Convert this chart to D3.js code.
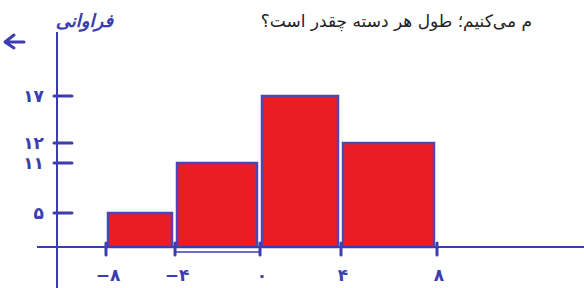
<!DOCTYPE html>
<html>
<head>
<meta charset="utf-8">
<script src="https://cdn.jsdelivr.net/npm/d3@7.9.0/dist/d3.min.js"></script>
<style>
  body { margin: 0; background: #fff; }
  svg { display: block; }
</style>
</head>
<body>
<div id="chart"></div>
<script>
// class edges, frequencies and y tick values
const binEdges = [-8, -4, 0, 4, 8];
const frequencies = [5, 11, 17, 12];
const yTicks = [5, 11, 12, 17];
const title = 'م می‌کنیم؛ طول هر دسته چقدر است؟';
const yTitle = 'فراوانی';

const width = 584, height = 288;
const ink = '#3b3db0';

const toFa = (n) => String(n).replace(/\d/g, (d) => '۰۱۲۳۴۵۶۷۸۹'[d]).replace('-', '−');

const svg = d3.select('#chart').append('svg')
  .attr('width', width)
  .attr('height', height);

// hand drawn axes are uneven, so use piecewise scales matching the sketch
const x = d3.scaleLinear()
  .domain(binEdges)
  .range([106, 175, 260, 341, 437]);
const y = d3.scaleLinear()
  .domain([0, 5, 11, 12, 17])
  .range([247, 213, 163, 143, 96]);

// title text (printed); rtl + start anchors the right edge
svg.append('text')
  .attr('x', 532)
  .attr('y', 27)
  .attr('text-anchor', 'start')
  .attr('direction', 'rtl')
  .style('font-family', 'DejaVu Sans, sans-serif')
  .style('font-size', '17px')
  .style('fill', '#222')
  .text(title);

// bars
const data = frequencies.map((f, i) => ({ x0: binEdges[i], x1: binEdges[i + 1], f }));
svg.append('g').selectAll('rect')
  .data(data)
  .join('rect')
  .attr('x', (d) => x(d.x0) + 2)
  .attr('width', (d) => x(d.x1) - x(d.x0) - 5)
  .attr('y', (d) => y(d.f))
  .attr('height', (d) => y(0) - y(d.f))
  .attr('fill', '#ec1c24')
  .attr('stroke', '#5044b4')
  .attr('stroke-width', 2.5);

// x axis line
svg.append('line')
  .attr('x1', 37).attr('x2', width)
  .attr('y1', y(0)).attr('y2', y(0))
  .attr('stroke', ink).attr('stroke-width', 2);

// y axis line
svg.append('line')
  .attr('x1', 57).attr('x2', 57)
  .attr('y1', 32).attr('y2', height)
  .attr('stroke', ink).attr('stroke-width', 2);

// y ticks
const yAxis = svg.append('g');
yAxis.selectAll('line')
  .data(yTicks)
  .join('line')
  .attr('x1', 54).attr('x2', 72)
  .attr('y1', (d) => y(d)).attr('y2', (d) => y(d))
  .attr('stroke', ink).attr('stroke-width', 3).attr('stroke-linecap', 'round');
yAxis.selectAll('text')
  .data(yTicks)
  .join('text')
  .attr('x', 44)
  .attr('y', (d) => y(d) + 6)
  .attr('text-anchor', 'end')
  .style('font-family', 'DejaVu Sans, sans-serif')
  .style('font-weight', 'bold')
  .style('font-size', '17px')
  .style('fill', ink)
  .text((d) => toFa(d));

// x ticks
const xAxis = svg.append('g');
xAxis.selectAll('line')
  .data(binEdges)
  .join('line')
  .attr('x1', (d) => x(d)).attr('x2', (d) => x(d))
  .attr('y1', y(0) - 4).attr('y2', y(0) + 8)
  .attr('stroke', ink).attr('stroke-width', 3).attr('stroke-linecap', 'round');
xAxis.selectAll('text')
  .data(binEdges)
  .join('text')
  .attr('x', (d) => x(d) + 2)
  .attr('y', 281)
  .attr('text-anchor', 'middle')
  .attr('direction', 'ltr')
  .style('font-family', 'DejaVu Sans, sans-serif')
  .style('font-weight', 'bold')
  .style('font-size', '17px')
  .style('fill', ink)
  .text((d) => toFa(d));

// bracket marking one class width
svg.append('path')
  .attr('d', `M${x(-4)},${y(0) + 1}V${y(0) + 5}H${x(0)}V${y(0) - 2}`)
  .attr('fill', 'none')
  .attr('stroke', ink).attr('stroke-width', 1.5);

// y axis title and arrow (handwritten)
svg.append('text')
  .attr('x', 113)
  .attr('y', 27)
  .attr('text-anchor', 'start')
  .attr('direction', 'rtl')
  .style('font-family', 'DejaVu Sans, sans-serif')
  .style('font-weight', 'bold')
  .style('font-style', 'italic')
  .style('font-size', '18px')
  .style('fill', ink)
  .text(yTitle);

svg.append('path')
  .attr('d', 'M24,42H6M14,35L5,42L14,48')
  .attr('fill', 'none')
  .attr('stroke', ink).attr('stroke-width', 3)
  .attr('stroke-linecap', 'round').attr('stroke-linejoin', 'round');
</script>
</body>
</html>
